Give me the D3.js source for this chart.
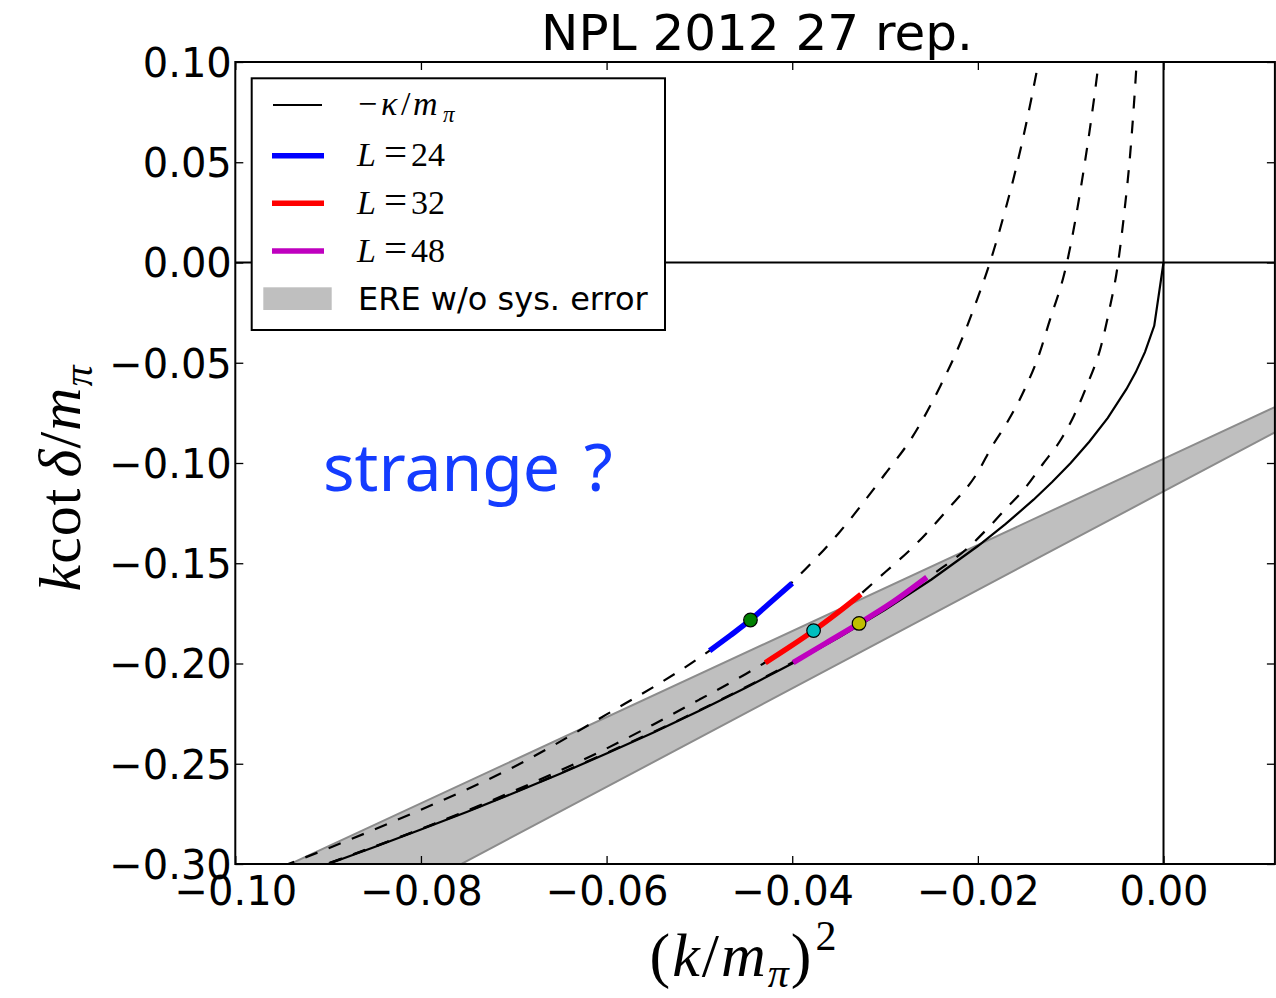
<!DOCTYPE html>
<html>
<head>
<meta charset="utf-8">
<script src="https://cdn.jsdelivr.net/npm/d3@7"></script>
<style>
  body { margin: 0; background: #ffffff; }
  svg { display: block; }
</style>
</head>
<body>
<svg id="chart" width="1276" height="998"></svg>
<script>
// ---- data -------------------------------------------------------------
const xTicks = [-0.10, -0.08, -0.06, -0.04, -0.02, 0.00];
const yTicks = [0.10, 0.05, 0.00, -0.05, -0.10, -0.15, -0.20, -0.25, -0.30];

// infinite-volume bound-state curve  -kappa/m_pi
const kappaX = [-0.100, -0.095, -0.090, -0.085, -0.080, -0.075, -0.070, -0.065, -0.060, -0.055,
                -0.050, -0.045, -0.040, -0.035, -0.030, -0.025, -0.020, -0.017, -0.014, -0.012,
                -0.010, -0.008, -0.006, -0.004, -0.003, -0.002, -0.001, 0.000];
const kappaY = [-0.3162, -0.3082, -0.3000, -0.2915, -0.2828, -0.2739, -0.2646, -0.2550, -0.2449, -0.2345,
                -0.2236, -0.2121, -0.2000, -0.1871, -0.1732, -0.1581, -0.1414, -0.1304, -0.1183, -0.1095,
                -0.1000, -0.0894, -0.0775, -0.0632, -0.0548, -0.0447, -0.0316, 0.0000];

// finite-volume curves (dashed), one per lattice size
const curve24X = [-0.100, -0.090, -0.080, -0.070, -0.060, -0.050, -0.045, -0.040, -0.035, -0.030,
                  -0.027, -0.024, -0.022, -0.020, -0.0187, -0.017, -0.0158, -0.0137, -0.0130];
const curve24Y = [-0.3100, -0.2922, -0.2729, -0.2516, -0.2254, -0.1971, -0.1801, -0.1595, -0.1350, -0.1055,
                  -0.0866, -0.0612, -0.0413, -0.0174, 0.0000, 0.0270, 0.0486, 0.0944, 0.1120];

const curve32X = [-0.100, -0.090, -0.080, -0.070, -0.060, -0.055, -0.050, -0.045, -0.040, -0.035,
                  -0.030, -0.027, -0.0233, -0.020, -0.0185, -0.0169, -0.0150, -0.0133, -0.0124, -0.0104,
                  -0.0088, -0.0070, -0.0066];
const curve32Y = [-0.3159, -0.2997, -0.2825, -0.2636, -0.2424, -0.2305, -0.2180, -0.2052, -0.1910, -0.1746,
                  -0.1545, -0.1420, -0.1234, -0.1045, -0.0919, -0.0802, -0.0636, -0.0445, -0.0310, 0.0000,
                  0.0403, 0.0993, 0.1150];

const curve48X = [-0.100, -0.090, -0.080, -0.070, -0.060, -0.050, -0.040, -0.035, -0.030, -0.025,
                  -0.021, -0.019, -0.017, -0.015, -0.013, -0.011, -0.0097, -0.0083, -0.0067, -0.0058,
                  -0.0050, -0.0042, -0.0036, -0.0029, -0.0027];
const curve48Y = [-0.3160, -0.2998, -0.2826, -0.2644, -0.2446, -0.2233, -0.1995, -0.1864, -0.1722, -0.1560,
                  -0.1420, -0.1329, -0.1229, -0.1130, -0.1005, -0.0879, -0.0769, -0.0619, -0.0411, -0.0228,
                  -0.0035, 0.0260, 0.0536, 0.0993, 0.1150];

// lattice data ranges (coloured segments)
const seg24X = [-0.0489, -0.0467, -0.0445, -0.0423, -0.0400];
const seg24Y = [-0.1936, -0.1861, -0.1783, -0.1693, -0.1600];
const seg32X = [-0.0429, -0.0403, -0.0377, -0.0352, -0.0326];
const seg32Y = [-0.1996, -0.1918, -0.1836, -0.1750, -0.1655];
const seg48X = [-0.0399, -0.0364, -0.0328, -0.0292, -0.0255];
const seg48Y = [-0.1996, -0.1899, -0.1800, -0.1695, -0.1570];

// central values
const pointX = [-0.0445, -0.0377, -0.0328];
const pointY = [-0.1783, -0.1836, -0.1800];
const pointColors = ["#008000", "#00bfbf", "#bfbf00"];

// effective range expansion band
const bandX = [-0.100, 0.000, 0.012];
const bandUpper = [-0.3127, -0.0979, -0.0721];
const bandLower = [-0.3598, -0.1142, -0.0847];

const legendLabels = ["L=24", "L=32", "L=48"];
const segColors = ["#0000ff", "#ff0000", "#bf00bf"];

// ---- layout -----------------------------------------------------------
const svg = d3.select("#chart");
const pLeft = 235.3, pRight = 1274.9, pTop = 62, pBottom = 864;

const x = d3.scaleLinear().domain([-0.1, 0.012]).range([pLeft, pRight]);
const y = d3.scaleLinear().domain([-0.30, 0.10]).range([pBottom, pTop]);

const fmt = d3.format(".2f");

svg.append("defs").append("clipPath").attr("id", "plotClip")
  .append("rect").attr("x", pLeft).attr("y", pTop)
  .attr("width", pRight - pLeft).attr("height", pBottom - pTop);

const plot = svg.append("g").attr("clip-path", "url(#plotClip)");

// band
const bandIdx = d3.range(bandX.length);
plot.append("path")
  .datum(bandIdx)
  .attr("d", d3.area().x(i => x(bandX[i])).y0(i => y(bandLower[i])).y1(i => y(bandUpper[i])))
  .attr("fill", "#bfbfbf").attr("stroke", "none");
[bandUpper, bandLower].forEach(edge => {
  plot.append("path").datum(bandIdx)
    .attr("d", d3.line().x(i => x(bandX[i])).y(i => y(edge[i])))
    .attr("fill", "none").attr("stroke", "#8c8c8c").attr("stroke-width", 2);
});

// zero lines
plot.append("line").attr("x1", pLeft).attr("x2", pRight).attr("y1", y(0)).attr("y2", y(0))
  .attr("stroke", "#000").attr("stroke-width", 2);
plot.append("line").attr("x1", x(0)).attr("x2", x(0)).attr("y1", pTop).attr("y2", pBottom)
  .attr("stroke", "#000").attr("stroke-width", 2);

function drawCurve(xs, ys, curve, attrs) {
  const p = plot.append("path").datum(d3.range(xs.length))
    .attr("d", d3.line().x(i => x(xs[i])).y(i => y(ys[i])).curve(curve))
    .attr("fill", "none");
  Object.entries(attrs).forEach(([k, v]) => p.attr(k, v));
  return p;
}

// solid kappa curve
drawCurve(kappaX, kappaY, d3.curveLinear, { stroke: "#000", "stroke-width": 2.2 });

// dashed finite-volume curves
[[curve24X, curve24Y], [curve32X, curve32Y], [curve48X, curve48Y]].forEach(([xs, ys]) => {
  drawCurve(xs, ys, d3.curveMonotoneX, { stroke: "#000", "stroke-width": 2.2, "stroke-dasharray": "13,12" });
});

// coloured segments
[[seg24X, seg24Y], [seg32X, seg32Y], [seg48X, seg48Y]].forEach(([xs, ys], k) => {
  drawCurve(xs, ys, d3.curveMonotoneX, { stroke: segColors[k], "stroke-width": 5.5 });
});

// central points
plot.selectAll("circle.pt").data(d3.range(pointX.length)).join("circle")
  .attr("class", "pt")
  .attr("cx", i => x(pointX[i])).attr("cy", i => y(pointY[i]))
  .attr("r", 6.8)
  .attr("fill", i => pointColors[i]).attr("stroke", "#000").attr("stroke-width", 1.2);

// ---- axes -------------------------------------------------------------
const tickFont = "'DejaVu Sans', sans-serif";

const gx = svg.append("g").attr("transform", `translate(0,${pBottom})`)
  .call(d3.axisBottom(x).tickValues(xTicks).tickFormat(fmt).tickSizeInner(-8).tickSizeOuter(0).tickPadding(12.6));
const gxTop = svg.append("g").attr("transform", `translate(0,${pTop})`)
  .call(d3.axisTop(x).tickValues(xTicks).tickFormat("").tickSizeInner(-8).tickSizeOuter(0));
const gy = svg.append("g").attr("transform", `translate(${pLeft},0)`)
  .call(d3.axisLeft(y).tickValues(yTicks).tickFormat(fmt).tickSizeInner(-8).tickSizeOuter(0).tickPadding(3.5));
const gyRight = svg.append("g").attr("transform", `translate(${pRight},0)`)
  .call(d3.axisRight(y).tickValues(yTicks).tickFormat("").tickSizeInner(-8).tickSizeOuter(0));

[gx, gxTop, gy, gyRight].forEach(g => {
  g.select(".domain").remove();
  g.selectAll(".tick line").attr("stroke", "#000").attr("stroke-width", 1.3);
  g.selectAll(".tick text").attr("font-family", tickFont).attr("font-size", 40).attr("fill", "#000");
});
gy.selectAll(".tick text").attr("dy", "0.36em");

// frame
svg.append("rect").attr("x", pLeft).attr("y", pTop)
  .attr("width", pRight - pLeft).attr("height", pBottom - pTop)
  .attr("fill", "none").attr("stroke", "#000").attr("stroke-width", 2);

// ---- titles and labels ------------------------------------------------
svg.append("text").attr("x", 757).attr("y", 50)
  .attr("text-anchor", "middle").attr("font-family", tickFont).attr("font-size", 50)
  .attr("fill", "#000").text("NPL 2012 27 rep.");

const mathFont = "'Liberation Serif', 'DejaVu Serif', serif";

// x label (k/m_pi)^2
const xl = svg.append("text").attr("x", 744).attr("y", 976)
  .attr("text-anchor", "middle").attr("font-family", mathFont).attr("font-size", 62)
  .attr("letter-spacing", 2).attr("fill", "#000");
xl.append("tspan").text("(");
xl.append("tspan").attr("font-style", "italic").text("k");
xl.append("tspan").text("/");
xl.append("tspan").attr("font-style", "italic").text("m");
xl.append("tspan").attr("font-style", "italic").attr("font-size", 42).attr("dy", 11).text("π");
xl.append("tspan").attr("dy", -11).text(")");
xl.append("tspan").attr("font-size", 42).attr("dy", -26).attr("dx", 2).text("2");

// y label k cot delta / m_pi
const yl = svg.append("text")
  .attr("transform", "translate(80,478) rotate(-90)")
  .attr("text-anchor", "middle").attr("font-family", mathFont).attr("font-size", 60)
  .attr("letter-spacing", 1).attr("fill", "#000");
yl.append("tspan").attr("font-style", "italic").text("k");
yl.append("tspan").text("cot");
yl.append("tspan").attr("dx", 10).attr("font-style", "italic").text("δ");
yl.append("tspan").text("/");
yl.append("tspan").attr("font-style", "italic").text("m");
yl.append("tspan").attr("font-style", "italic").attr("font-size", 42).attr("dy", 12).text("π");

// annotation
const note = svg.append("text").attr("x", 323).attr("y", 491)
  .attr("font-family", "'Noto Sans', 'Open Sans', sans-serif").attr("font-size", 66)
  .attr("fill", "#143cff");
note.append("tspan").text("strange");
note.append("tspan").attr("x", 584).text("?");

// ---- legend -----------------------------------------------------------
const lg = svg.append("g");
lg.append("rect").attr("x", 251.7).attr("y", 78.3).attr("width", 413.3).attr("height", 251.7)
  .attr("fill", "#fff").attr("stroke", "#000").attr("stroke-width", 2);

// kappa entry
lg.append("line").attr("x1", 273).attr("x2", 322).attr("y1", 105).attr("y2", 105)
  .attr("stroke", "#000").attr("stroke-width", 2.2);
const k0 = lg.append("text").attr("font-family", mathFont).attr("font-size", 34).attr("fill", "#000");
k0.append("tspan").attr("x", 358).attr("y", 115).text("−");
k0.append("tspan").attr("x", 381).attr("y", 115).attr("font-style", "italic").text("κ");
k0.append("tspan").attr("x", 401).attr("y", 115).text("/");
k0.append("tspan").attr("x", 413).attr("y", 115).attr("font-style", "italic").text("m");
k0.append("tspan").attr("x", 443).attr("y", 122).attr("font-style", "italic").attr("font-size", 23).text("π");

const rowY = [155.7, 203.3, 251];
legendLabels.forEach((lab, k) => {
  lg.append("line").attr("x1", 272).attr("x2", 324).attr("y1", rowY[k]).attr("y2", rowY[k])
    .attr("stroke", segColors[k]).attr("stroke-width", 5.5);
  const parts = lab.split("=");
  const t = lg.append("text").attr("font-family", mathFont).attr("font-size", 34).attr("fill", "#000");
  t.append("tspan").attr("x", 357).attr("y", rowY[k] + 10.5).attr("font-style", "italic").text(parts[0]);
  t.append("tspan").attr("x", 384).attr("y", rowY[k] + 10.5).attr("font-size", 41).text("=");
  t.append("tspan").attr("x", 411).attr("y", rowY[k] + 10.5).text(parts[1]);
});

lg.append("rect").attr("x", 263.3).attr("y", 287.3).attr("width", 68.4).attr("height", 22.7)
  .attr("fill", "#bfbfbf");
lg.append("text").attr("x", 358).attr("y", 310).attr("font-family", tickFont).attr("font-size", 32)
  .attr("fill", "#000").text("ERE w/o sys. error");
</script>
</body>
</html>
